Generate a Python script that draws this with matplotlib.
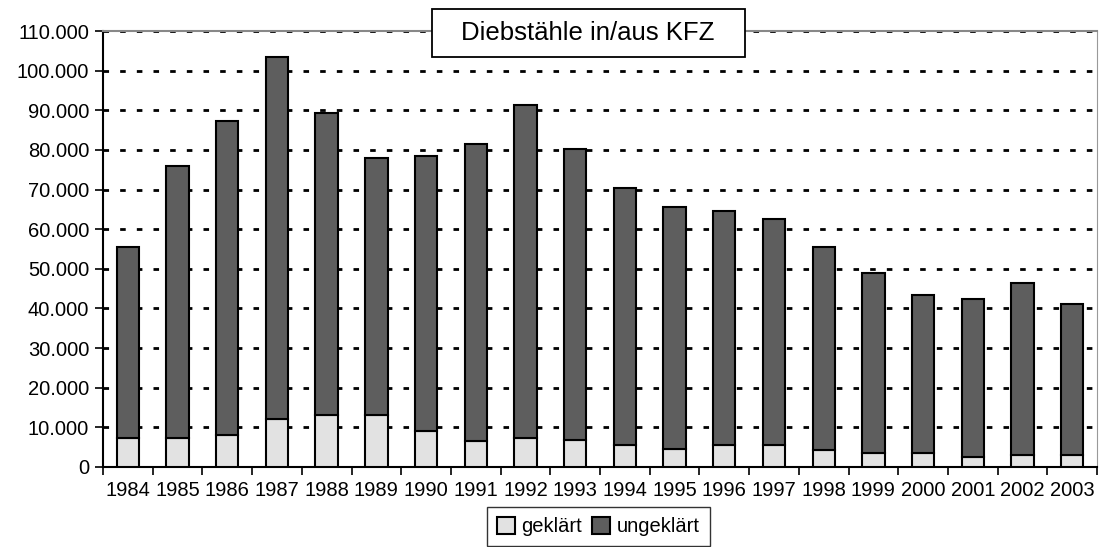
import numpy as np
import matplotlib.pyplot as plt
from matplotlib.patches import Rectangle
from matplotlib.ticker import FuncFormatter, MultipleLocator

plt.rcParams['font.family'] = ['Liberation Sans', 'DejaVu Sans']

years = [str(y) for y in range(1984, 2004)]
total = [55500, 76000, 87300, 103500, 89400, 78000, 78400, 81500, 91400, 80200,
         70500, 65500, 64500, 62500, 55500, 49000, 43500, 42500, 46500, 41000]
geklaert = [7400, 7400, 8000, 12000, 13000, 13000, 9000, 6500, 7400, 6900,
            5500, 4500, 5500, 5500, 4400, 3500, 3500, 2500, 3000, 3000]
ungeklaert = [t - g for t, g in zip(total, geklaert)]

fig = plt.figure(figsize=(11.03, 5.47), dpi=100)
ax = fig.add_axes([0.0934, 0.1463, 0.9012, 0.797])

x = np.arange(len(years))
ax.bar(x, geklaert, width=0.45, color='#e2e2e2', edgecolor='black', linewidth=1.5,
       label='geklärt', zorder=3)
ax.bar(x, ungeklaert, bottom=geklaert, width=0.45, color='#5e5e5e', edgecolor='black',
       linewidth=1.5, label='ungeklärt', zorder=3)

ax.set_xlim(-0.5, len(years) - 0.5)
ax.set_ylim(0, 110000)
ax.yaxis.set_major_locator(MultipleLocator(10000))
ax.yaxis.set_major_formatter(FuncFormatter(lambda v, p: f"{int(v):,}".replace(",", ".")))

# year labels centred, tick marks between categories
ax.set_xticks(np.arange(-0.5, len(years), 1))
ax.set_xticklabels([])
ax.set_xticks(x, minor=True)
ax.set_xticklabels(years, minor=True)
ax.tick_params(axis='x', which='minor', length=0, pad=10, labelsize=14.5)
ax.tick_params(axis='x', which='major', length=6, width=1.2, direction='out')
ax.tick_params(axis='y', length=6, width=1.2, direction='out', labelsize=14.5, pad=4)

ax.grid(axis='y', color='black', linestyle=(0, (2, 4)), linewidth=2, zorder=1)
ax.spines['left'].set_linewidth(1.5)
ax.spines['bottom'].set_linewidth(1.5)
ax.spines['right'].set_color('#999999')
ax.spines['top'].set_color('#888888')
ax.spines['top'].set_linewidth(1.5)

# title box
fig.patches.append(Rectangle((0.3917, 0.8958), 0.2838, 0.0878, transform=fig.transFigure,
                             facecolor='white', edgecolor='black', linewidth=1.3, zorder=5))
fig.text(0.533, 0.9397, 'Diebstähle in/aus KFZ', fontsize=18.5, ha='center', va='center',
         zorder=6)

leg = fig.legend(loc='upper center', bbox_to_anchor=(0.5425, 0.0731), ncol=2, fontsize=14.5,
                 frameon=True, fancybox=False, edgecolor='black', handlelength=0.9,
                 handleheight=0.9, handletextpad=0.3, columnspacing=0.5,
                 borderpad=0.5, borderaxespad=0)
leg.get_frame().set_linewidth(1.0)

fig.savefig('out.png', dpi=100)
